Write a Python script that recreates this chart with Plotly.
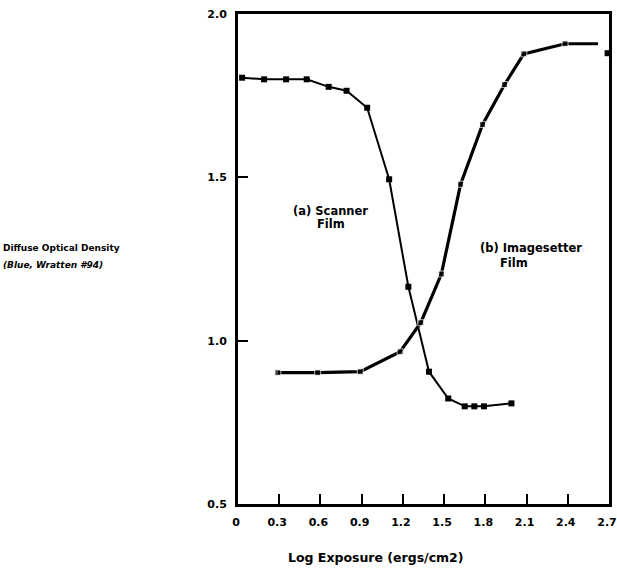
import plotly.graph_objects as go

# Data
scanner_x = [0.03, 0.19, 0.35, 0.50, 0.66, 0.79, 0.94, 1.10, 1.24, 1.39, 1.53, 1.65, 1.72, 1.79, 1.99]
scanner_y = [1.805, 1.80, 1.80, 1.80, 1.777, 1.765, 1.713, 1.494, 1.165, 0.905, 0.823, 0.799, 0.799, 0.799, 0.808]

imgset_x = [0.29, 0.58, 0.89, 1.18, 1.33, 1.48, 1.62, 1.78, 1.94, 2.08, 2.38, 2.62]
imgset_y = [0.902, 0.902, 0.905, 0.966, 1.055, 1.204, 1.479, 1.662, 1.784, 1.878, 1.909, 1.909]
imgset_marker = [6, 6, 6, 6, 6, 6, 6, 6, 6, 6, 6, 0]

lone_x = [2.69]
lone_y = [1.88]

x_ticks = [0, 0.3, 0.6, 0.9, 1.2, 1.5, 1.8, 2.1, 2.4, 2.7]
x_labels = ["0", "0.3", "0.6", "0.9", "1.2", "1.5", "1.8", "2.1", "2.4", "2.7"]
y_ticks = [0.5, 1.0, 1.5, 2.0]
y_labels = ["0.5", "1.0", "1.5", "2.0"]

WIDE = "DejaVu Sans"
W, H = 617, 573
L, R, T, B = 238, 8, 14, 69

fig = go.Figure()
fig.add_trace(go.Scatter(x=scanner_x, y=scanner_y, mode="lines+markers",
                         line=dict(color="black", width=2),
                         marker=dict(symbol="square", size=6, color="black"),
                         showlegend=False, cliponaxis=False, hoverinfo="skip"))
fig.add_trace(go.Scatter(x=imgset_x, y=imgset_y, mode="lines+markers",
                         line=dict(color="black", width=3.2),
                         marker=dict(symbol="square", size=imgset_marker, color="black"),
                         showlegend=False, cliponaxis=False, hoverinfo="skip"))
fig.add_trace(go.Scatter(x=lone_x, y=lone_y, mode="markers",
                         marker=dict(symbol="square", size=6, color="black"),
                         showlegend=False, cliponaxis=False, hoverinfo="skip"))

tick_font = dict(family=WIDE, size=11, color="black", weight="bold")
fig.update_xaxes(range=[0, 2.7], tickvals=x_ticks, ticktext=x_labels,
                 ticks="inside", ticklen=10, tickwidth=2, tickcolor="black",
                 showline=True, linewidth=3, linecolor="black", mirror=True,
                 showgrid=False, zeroline=False, automargin=False,
                 ticklabelstandoff=6, ticklabelshift=-2,
                 tickfont=tick_font)
fig.update_yaxes(range=[0.5, 2.0], tickvals=y_ticks, ticktext=y_labels,
                 ticks="inside", ticklen=10, tickwidth=2, tickcolor="black",
                 showline=True, linewidth=3, linecolor="black", mirror=True,
                 showgrid=False, zeroline=False, automargin=False,
                 ticklabelstandoff=6,
                 tickfont=tick_font)

pw = W - L - R
ph = H - T - B


def px(x):
    return (x - L) / pw


def py(y):
    return (H - y - B) / ph


ann_font = dict(family=WIDE, size=11.5, color="black", weight="bold")
ytitle_font = dict(family=WIDE, size=9, color="black", weight="bold")


def label(text, x, y, font, xanchor="left"):
    return dict(text=text, x=px(x), y=py(y), xref="paper", yref="paper",
                showarrow=False, font=font, xanchor=xanchor, yanchor="middle")


fig.update_layout(
    width=W, height=H,
    margin=dict(l=L, r=R, t=T, b=B, autoexpand=False),
    plot_bgcolor="white", paper_bgcolor="white",
    annotations=[
        label("(a) Scanner", 291, 211, ann_font),
        label("Film", 315, 224, ann_font),
        label("(b) Imagesetter", 478, 248, ann_font),
        label("Film", 498, 263, ann_font),
        label("Diffuse Optical Density", 1, 248, ytitle_font),
        label("<i>(Blue, Wratten #94)</i>", 1, 265, ytitle_font),
        label("Log Exposure (ergs/cm2)", 375, 557,
              dict(family=WIDE, size=12.5, color="black", weight="bold"), xanchor="center"),
    ],
)

fig.write_html("out.html", config={"displayModeBar": False},
               post_script="document.body.style.margin='0';")
